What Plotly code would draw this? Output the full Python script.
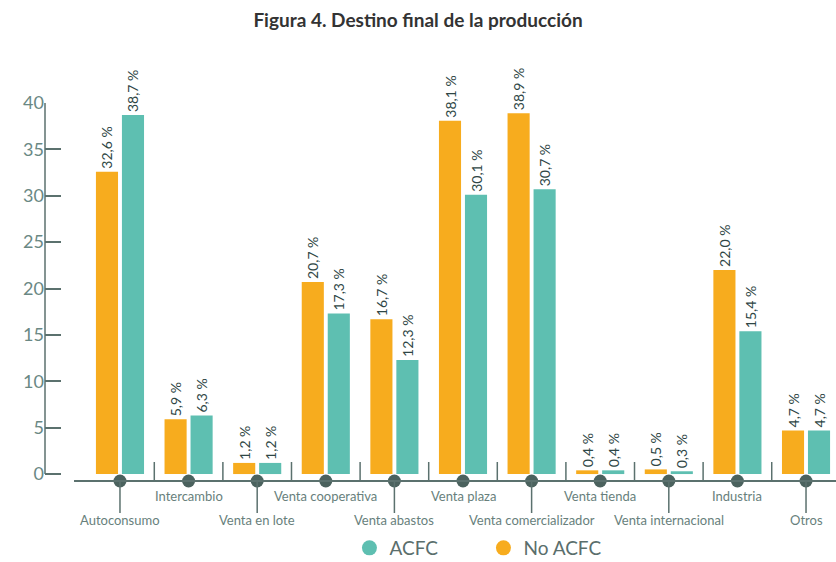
import plotly.graph_objects as go

# %%
categories = [
    "Autoconsumo", "Intercambio", "Venta en lote", "Venta cooperativa",
    "Venta abastos", "Venta plaza", "Venta comercializador", "Venta tienda",
    "Venta internacional", "Industria", "Otros",
]
no_acfc = [32.6, 5.9, 1.2, 20.7, 16.7, 38.1, 38.9, 0.4, 0.5, 22.0, 4.7]
acfc = [38.7, 6.3, 1.2, 17.3, 12.3, 30.1, 30.7, 0.4, 0.3, 15.4, 4.7]
y_ticks = [0, 5, 10, 15, 20, 25, 30, 35, 40]

ORANGE = "#F7AC1E"
TEAL = "#5EBFB1"
AXIS = "#5b716e"
DOT = "#4b625e"
LABEL = "#687f7c"
FONT = "Lato"

X_RANGE = [-1.093, 10.437]
Y_RANGE = [-5.6, 40]
AXIS_Y = -0.75


def pct(v):
    return f"{v:.1f}".replace(".", ",") + " %"


# %%
def bar(values, name, color):
    return go.Bar(
        x=list(range(len(categories))),
        y=values,
        name=name,
        marker=dict(color=color, line=dict(width=0)),
        text=[pct(v) for v in values],
        textposition="outside",
        textangle=-90,
        constraintext="none",
        cliponaxis=False,
        textfont=dict(family=FONT, size=14, color="#2e4645"),
        showlegend=False,
        hoverinfo="skip",
    )


fig = go.Figure()
fig.add_trace(bar(no_acfc, "No ACFC", ORANGE))
fig.add_trace(bar(acfc, "ACFC", TEAL))

# dots on the category axis
fig.add_trace(go.Scatter(
    x=list(range(len(categories))),
    y=[AXIS_Y] * len(categories),
    mode="markers",
    marker=dict(size=13, color=DOT),
    cliponaxis=False,
    showlegend=False,
    hoverinfo="skip",
))

# legend entries with round symbols
for name, color in [("ACFC", TEAL), ("No ACFC", ORANGE)]:
    fig.add_trace(go.Scatter(
        x=[None], y=[None], mode="markers", name=name,
        marker=dict(size=15, color=color, symbol="circle"),
    ))

# axis lines, separators and connectors
shapes = [
    dict(type="line", xref="x", yref="y", x0=-0.67, x1=X_RANGE[1],
         y0=AXIS_Y, y1=AXIS_Y, line=dict(color=AXIS, width=2)),
    dict(type="line", xref="paper", yref="y", x0=0, x1=0, y0=0, y1=40,
         line=dict(color=AXIS, width=1.5)),
]
for i in range(len(categories) - 1):
    shapes.append(dict(type="line", xref="x", yref="y", x0=i + 0.5, x1=i + 0.5,
                       y0=AXIS_Y, y1=1.3, line=dict(color=AXIS, width=1.5)))
annotations = []
for i, cat in enumerate(categories):
    if i % 2 == 0:
        shapes.append(dict(type="line", xref="x", yref="y", x0=i, x1=i,
                           y0=AXIS_Y, y1=-4.2, line=dict(color=AXIS, width=1.5)))
        ylab = -4.96
    else:
        ylab = -2.37
    annotations.append(dict(
        x=i, y=ylab, xref="x", yref="y", text=cat, showarrow=False,
        xanchor="center", yanchor="middle",
        font=dict(family=FONT, size=13, color=LABEL),
    ))

fig.update_layout(
    width=836,
    height=562,
    margin=dict(l=45, r=0, t=103, b=36),
    paper_bgcolor="white",
    plot_bgcolor="white",
    barmode="group",
    bargap=0.242,
    bargroupgap=0.15,
    title=dict(
        text="<b>Figura 4. Destino final de la producción</b>",
        xref="container", x=0.5, xanchor="center",
        y=1 - 20 / 562, yanchor="middle",
        font=dict(family=FONT, size=19, color="#333333"),
    ),
    xaxis=dict(range=X_RANGE, showgrid=False, zeroline=False,
               showline=False, showticklabels=False, ticks=""),
    yaxis=dict(range=Y_RANGE, showgrid=False, zeroline=False, showline=False,
               tickvals=y_ticks, ticks="inside", ticklen=16, tickwidth=1.5,
               tickcolor=AXIS, tickfont=dict(family=FONT, size=18, color="#6a8884")),
    shapes=shapes,
    annotations=annotations,
    legend=dict(
        orientation="h", xref="container", yref="container",
        x=0.418, xanchor="left", y=1 - 548 / 562, yanchor="middle",
        font=dict(family=FONT, size=19, color="#5a6e6c"),
        entrywidth=89, entrywidthmode="pixels",
    ),
)

# page body has a default 8px margin; drop it so the figure fills the window
fig.write_html(
    "out.html",
    config={"displayModeBar": False},
    post_script="document.body.style.margin='0px';",
)
